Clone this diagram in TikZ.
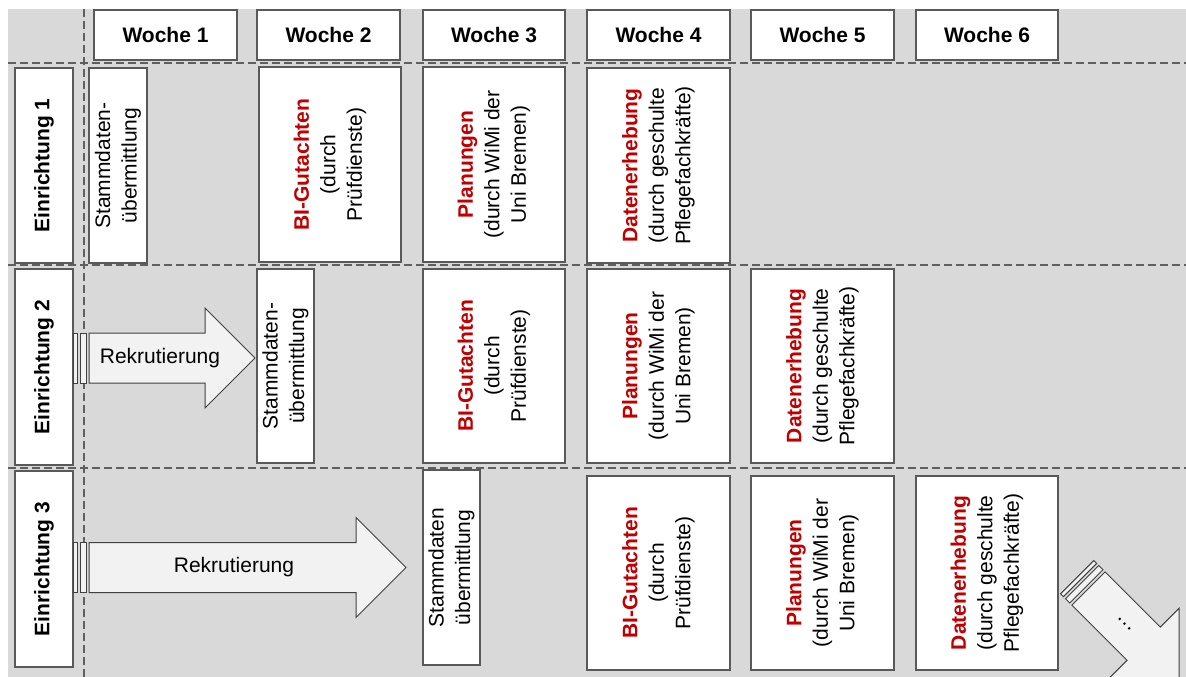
\documentclass[tikz,border=0pt]{standalone}
\usepackage{fontspec}
\setmainfont{Liberation Sans}
\definecolor{bg}{HTML}{D9D9D9}
\definecolor{edge}{HTML}{595959}
\definecolor{dashc}{HTML}{5F5F5F}
\definecolor{rd}{HTML}{C00000}
\definecolor{arrowfill}{HTML}{F2F2F2}
\definecolor{arrowedge}{HTML}{404040}
\tikzset{
 box/.style={draw=edge, line width=1.3pt, fill=white},
 sep/.style={draw=dashc, line width=1.8pt, dash pattern=on 8pt off 4pt},
 arr/.style={draw=arrowedge, line width=1pt, fill=arrowfill, line join=miter},
 txt/.style={font=\fontsize{21}{26.5}\selectfont, align=center, inner sep=0pt},
 vtxt/.style={txt, rotate=90},
 hd/.style={font=\bfseries\fontsize{21}{26}\selectfont, inner sep=0pt},
}
\newcommand\actbox[6]{%
 \draw[box] (#2,#3) rectangle (#4,#5);
 \node[vtxt] (#1) at ({(#2+#4)/2},{(#3+#5)/2}) {#6};}
\newcommand\hdbox[6]{%
 \draw[box] (#2,#3) rectangle (#4,#5);
 \node[hd] (#1) at ({(#2+#4)/2},{(#3+#5)/2}) {#6};}
\newcommand\rowbox[6]{%
 \draw[box] (#2,#3) rectangle (#4,#5);
 \node[hd, rotate=90] (#1) at ({(#2+#4)/2},{(#3+#5)/2}) {#6};}
\newcommand\BI{{\color{rd}\bfseries BI-Gutachten}\\(durch\\Prüfdienste)}
\newcommand\PL{{\color{rd}\bfseries Planungen}\\(durch WiMi der\\Uni Bremen)}
\newcommand\DE{{\color{rd}\bfseries Datenerhebung}\\(durch geschulte\\Pflegefachkräfte)}
\begin{document}
\begin{tikzpicture}[x=1pt,y=-1pt]
\useasboundingbox (0,0) rectangle (1186,677);
\clip (0,0) rectangle (1186,677);
\fill[bg] (8,9) rectangle (1186,677);
% separators
\draw[sep] (8,63) -- (1186,63);
\draw[sep] (8,265) -- (1186,265);
\draw[sep] (8,468) -- (1186,468);
\draw[sep] (84,9) -- (84,677);
% headers
\hdbox{w1}{94}{10}{237}{60}{Woche 1}
\hdbox{w2}{257}{10}{400}{60}{Woche 2}
\hdbox{w3}{423}{10}{565}{60}{Woche 3}
\hdbox{w4}{587}{10}{730}{60}{Woche 4}
\hdbox{w5}{751}{10}{894}{60}{Woche 5}
\hdbox{w6}{916}{10}{1058}{60}{Woche 6}
% row labels
\rowbox{e1}{15}{68}{73}{263}{Einrichtung 1}
\rowbox{e2}{15}{269}{73}{465}{Einrichtung 2}
\rowbox{e3}{15}{471}{73}{667}{Einrichtung 3}
% row 1
\actbox{s1}{89}{68}{147}{263}{Stammdaten-\\übermittlung}
\actbox{b1}{259}{67}{401}{262}{\BI}
\actbox{p1}{423}{67}{565}{262}{\PL}
\actbox{d1}{587}{68}{730}{263}{\DE}
% row 2
\actbox{s2}{257}{269}{314}{463}{Stammdaten-\\übermittlung}
\actbox{b2}{423}{269}{565}{463}{\BI}
\actbox{p2}{587}{269}{730}{463}{\PL}
\actbox{d2}{751}{269}{894}{463}{\DE}
% row 3
\actbox{s3}{423}{470}{480}{665}{Stammdaten\\übermittlung}
\actbox{b3}{587}{476}{730}{670}{\BI}
\actbox{p3}{751}{476}{894}{670}{\PL}
\actbox{d3}{916}{476}{1058}{670}{\DE}
% arrow row 2
\draw[arr] (73,333) rectangle (77,383);
\draw[arr] (80,333) rectangle (86,383);
\draw[arr] (89,333) -- (205,333) -- (205,308) -- (255,358) -- (205,408) -- (205,383) -- (89,383) -- cycle;
\node[txt] (r2) at (160,358) {Rekrutierung};
% arrow row 3
\draw[arr] (73,542.5) rectangle (77,592.5);
\draw[arr] (80,542.5) rectangle (86,592.5);
\draw[arr] (89,542.5) -- (356,542.5) -- (356,517.5) -- (406,567.5) -- (356,617.5) -- (356,592.5) -- (89,592.5) -- cycle;
\node[txt] (r3) at (234,567.5) {Rekrutierung};
% diagonal arrow
\begin{scope}[shift={(1088.5,588.5)}, rotate=-45]
\draw[arr] (-16,-23.5) rectangle (-12,23.5);
\draw[arr] (-9,-23.5) rectangle (-3,23.5);
\draw[arr] (0,-23.5) -- (78,-23.5) -- (78,-50) -- (128,0) -- (78,50) -- (78,23.5) -- (0,23.5) -- cycle;
\node[txt, rotate=-45] (more) at (51,0) {…};
\end{scope}
\end{tikzpicture}
\end{document}
